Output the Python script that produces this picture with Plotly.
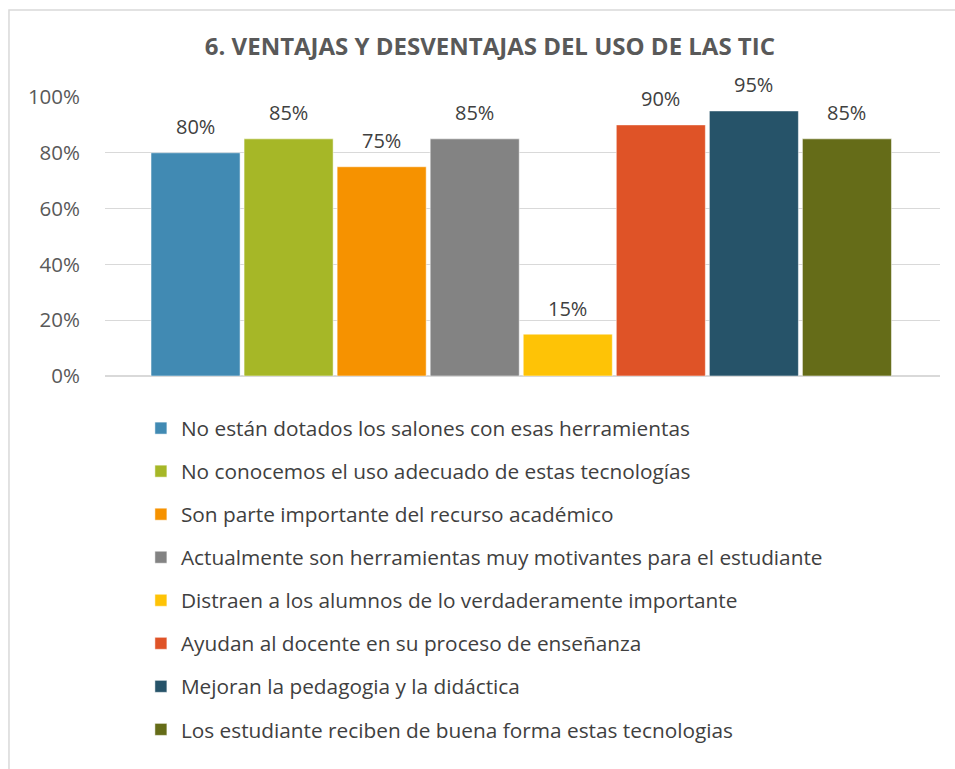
import plotly.graph_objects as go

title = "6. VENTAJAS Y DESVENTAJAS DEL USO DE LAS TIC"
labels = [
    "No están dotados los salones con esas herramientas",
    "No conocemos el uso adecuado de estas tecnologías",
    "Son parte importante del recurso académico",
    "Actualmente son herramientas muy motivantes para el estudiante",
    "Distraen a los alumnos de lo verdaderamente importante",
    "Ayudan al docente en su proceso de enseñanza",
    "Mejoran la pedagogia y la didáctica",
    "Los estudiante reciben de buena forma estas tecnologias",
]
values = [0.80, 0.85, 0.75, 0.85, 0.15, 0.90, 0.95, 0.85]
colors = ["#418AB3", "#A6B727", "#F69200", "#838383",
          "#FEC306", "#DF5327", "#265369", "#656C18"]
yticks = [0, 0.2, 0.4, 0.6, 0.8, 1.0]

fig = go.Figure()
annots = []
for i, (lab, val, col) in enumerate(zip(labels, values, colors)):
    fig.add_trace(go.Bar(
        x=[i], y=[val], name=lab, width=0.957,
        marker=dict(color=col, line=dict(color="rgba(255,255,255,0.5)", width=1)),
        legendgroup=str(i), hoverinfo="skip",
    ))
    # etiqueta de datos encima de la barra
    annots.append(dict(x=i, y=val, xref="x", yref="y", text="{:.0%}".format(val),
                       showarrow=False, yanchor="middle", yshift=26,
                       font=dict(size=20, color="#404040")))

fig.update_layout(
    width=955, height=769,
    margin=dict(l=105, r=15, t=97, b=393),
    paper_bgcolor="white", plot_bgcolor="white",
    font=dict(family="Open Sans", color="#595959"),
    title=dict(text="<b>" + title + "</b>", x=0.513, xanchor="center",
               y=0.939, yanchor="middle", font=dict(size=24, color="#595959")),
    barmode="overlay",
    showlegend=True,
    legend=dict(orientation="v", x=0.043, xanchor="left", y=-0.115, yanchor="top",
                traceorder="grouped", tracegroupgap=13,
                font=dict(size=20.8, color="#404040")),
    xaxis=dict(range=[-0.973, 8.0], showticklabels=False, showline=False,
               showgrid=False, zeroline=False, fixedrange=True),
    yaxis=dict(range=[0, 1.0], tickvals=yticks, tickformat=".0%",
               showgrid=True, gridcolor="#d9d9d9", gridwidth=1,
               zeroline=True, zerolinecolor="#d9d9d9", fixedrange=True,
               tickfont=dict(size=20.5, color="#595959"), ticks="", ticklabelstandoff=24),
    annotations=annots,
    shapes=[dict(type="rect", xref="paper", yref="paper",
                 x0=-0.1150, x1=1.1, y0=-1.5, y1=1.312,
                 line=dict(color="#d9d9d9", width=1.5), layer="below")],
)

fig.write_html("out.html", config={"displayModeBar": False},
               post_script="document.body.style.margin='0px';")
